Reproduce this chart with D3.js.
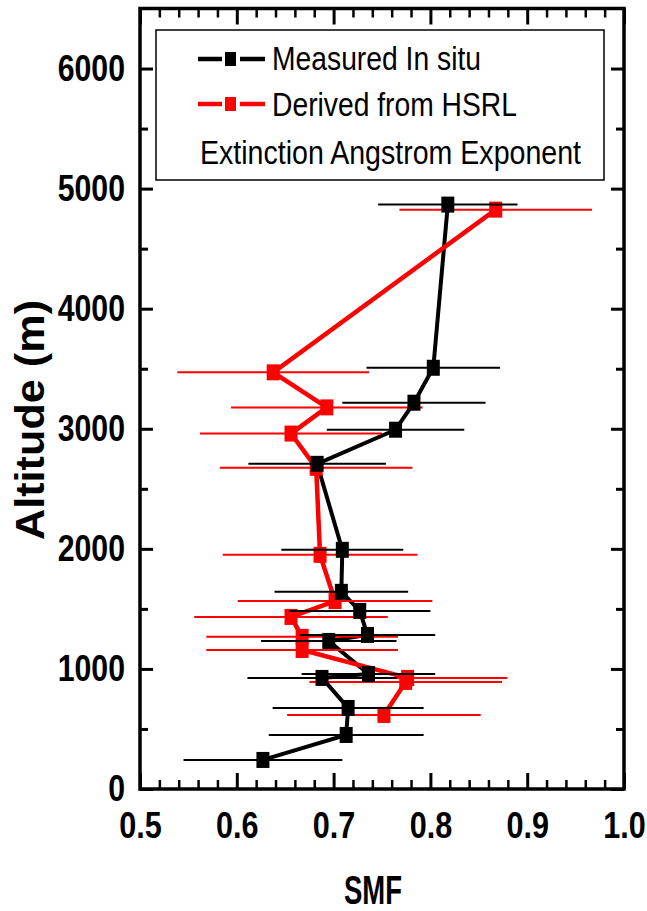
<!DOCTYPE html>
<html><head><meta charset="utf-8">
<script src="https://cdn.jsdelivr.net/npm/d3@7/dist/d3.min.js"></script>
<style>body{margin:0;background:#fff} text{font-family:"Liberation Sans",Arial,sans-serif}</style>
</head><body><svg id="c" width="647" height="911"></svg>
<script>
// Measured In situ (black)
const measuredAlt = [4867, 3508, 3217, 2992, 2708, 1992, 1642, 1483, 1283, 1233, 958, 925, 675, 450, 242];
const measuredSMF = [0.818, 0.803, 0.783, 0.764, 0.683, 0.709, 0.708, 0.727, 0.735, 0.695, 0.736, 0.688, 0.715, 0.713, 0.627];
const measuredErr = [0.072, 0.069, 0.074, 0.071, 0.071, 0.063, 0.069, 0.073, 0.070, 0.070, 0.069, 0.077, 0.078, 0.080, 0.082];
// Derived from HSRL (red)
const hsrlAlt = [4825, 3470, 3178, 2960, 2675, 1950, 1565, 1433, 1267, 1158, 925, 892, 617];
const hsrlSMF = [0.8675, 0.6376, 0.693, 0.656, 0.682, 0.686, 0.7015, 0.656, 0.6675, 0.6675, 0.7765, 0.7745, 0.752];
const hsrlErr = [0.0995, 0.099, 0.099, 0.094, 0.0995, 0.1005, 0.1005, 0.100, 0.099, 0.099, 0.103, 0.0995, 0.100];
// Axes ticks
const xMajor = [0.5, 0.6, 0.7, 0.8, 0.9, 1.0];
const xMinor = [0.52,0.54,0.56,0.58,0.62,0.64,0.66,0.68,0.72,0.74,0.76,0.78,0.82,0.84,0.86,0.88,0.92,0.94,0.96,0.98];
const yMajor = [0, 1000, 2000, 3000, 4000, 5000, 6000];
const yMinor = [500, 1500, 2500, 3500, 4500, 5500];
const xTickLabels = ["0.5", "0.6", "0.7", "0.8", "0.9", "1.0"];
const yTickLabels = ["0", "1000", "2000", "3000", "4000", "5000", "6000"];
const legendLabels = ["Measured In situ", "Derived from HSRL", "Extinction Angstrom Exponent"];

const svg = d3.select('#c');
const L = 140, R = 624, T = 8.5, B = 789;
const x = d3.scaleLinear().domain([0.5, 1.0]).range([L, R]);
const y = d3.scaleLinear().domain([0, 6500]).range([B, T]);

function styleAxis(g, w) {
  g.select('.domain').remove();
  g.selectAll('line').attr('stroke', '#000').attr('stroke-width', w);
}
// bottom axis
const gb = svg.append('g').attr('transform', `translate(0,${B})`)
  .call(d3.axisBottom(x).tickValues(xMajor).tickSizeInner(-16).tickSizeOuter(0).tickPadding(23)
    .tickFormat((d, i) => xTickLabels[i]));
styleAxis(gb, 3);
gb.selectAll('text').attr('font-size', 36).attr('font-weight', 'bold').attr('fill', '#000').attr('font-family', '"Liberation Sans",Arial,sans-serif');
const gbm = svg.append('g').attr('transform', `translate(0,${B})`)
  .call(d3.axisBottom(x).tickValues(xMinor).tickSize(-9).tickFormat(''));
styleAxis(gbm, 2.5);
// top axis
const gt = svg.append('g').attr('transform', `translate(0,${T})`)
  .call(d3.axisTop(x).tickValues(xMajor).tickSize(-16).tickFormat(''));
styleAxis(gt, 3);
const gtm = svg.append('g').attr('transform', `translate(0,${T})`)
  .call(d3.axisTop(x).tickValues(xMinor).tickSize(-9).tickFormat(''));
styleAxis(gtm, 2.5);
// left axis
const gl = svg.append('g').attr('transform', `translate(${L},0)`)
  .call(d3.axisLeft(y).tickValues(yMajor).tickSizeInner(-13).tickSizeOuter(0).tickPadding(15)
    .tickFormat((d, i) => yTickLabels[i]));
styleAxis(gl, 3);
gl.selectAll('text').attr('font-size', 36).attr('font-weight', 'bold').attr('fill', '#000').attr('font-family', '"Liberation Sans",Arial,sans-serif');
const glm = svg.append('g').attr('transform', `translate(${L},0)`)
  .call(d3.axisLeft(y).tickValues(yMinor).tickSize(-8).tickFormat(''));
styleAxis(glm, 3);
// right axis
const gr = svg.append('g').attr('transform', `translate(${R},0)`)
  .call(d3.axisRight(y).tickValues(yMajor).tickSize(-13).tickFormat(''));
styleAxis(gr, 3);
const grm = svg.append('g').attr('transform', `translate(${R},0)`)
  .call(d3.axisRight(y).tickValues(yMinor).tickSize(-8).tickFormat(''));
styleAxis(grm, 3);

// compress tick labels horizontally
gb.selectAll('text').each(function(){ const n = this.getComputedTextLength(); d3.select(this).attr('textLength', n*0.85).attr('lengthAdjust','spacingAndGlyphs'); });
gl.selectAll('text').each(function(){ const n = this.getComputedTextLength(); d3.select(this).attr('textLength', n*0.84).attr('lengthAdjust','spacingAndGlyphs'); });

// frame
svg.append('rect').attr('x', L).attr('y', T).attr('width', R - L).attr('height', B - T)
  .attr('fill', 'none').attr('stroke', '#000').attr('stroke-width', 3.5);

// series
const black = measuredAlt.map((a, i) => ({a, v: measuredSMF[i], e: measuredErr[i]}));
const red = hsrlAlt.map((a, i) => ({a, v: hsrlSMF[i], e: hsrlErr[i]}));
const line = d3.line().x(d => x(d.v)).y(d => y(d.a));
const SW = 13, SH = 16;

svg.append('path').datum(black).attr('d', line).attr('fill', 'none').attr('stroke', '#000').attr('stroke-width', 4);
svg.append('path').datum(red).attr('d', line).attr('fill', 'none').attr('stroke', '#ff0000').attr('stroke-width', 4.5);
svg.append('g').selectAll('line').data(red).join('line')
  .attr('x1', d => x(d.v - d.e)).attr('x2', d => x(d.v + d.e)).attr('y1', d => y(d.a)).attr('y2', d => y(d.a))
  .attr('stroke', '#ff0000').attr('stroke-width', 2);
svg.append('g').selectAll('rect').data(red).join('rect')
  .attr('x', d => x(d.v) - SW/2).attr('y', d => y(d.a) - SH/2).attr('width', SW).attr('height', SH).attr('fill', '#ff0000');
svg.append('g').selectAll('line').data(black).join('line')
  .attr('x1', d => x(d.v - d.e)).attr('x2', d => x(d.v + d.e)).attr('y1', d => y(d.a)).attr('y2', d => y(d.a))
  .attr('stroke', '#000').attr('stroke-width', 2);
svg.append('g').selectAll('rect').data(black).join('rect')
  .attr('x', d => x(d.v) - SW/2).attr('y', d => y(d.a) - SH/2).attr('width', SW).attr('height', SH).attr('fill', '#000');

// legend
const lg = svg.append('g');
lg.append('rect').attr('x', 156).attr('y', 30).attr('width', 448).attr('height', 150)
  .attr('fill', '#fff').attr('stroke', '#000').attr('stroke-width', 1.5);
const legendColors = ['#000', '#ff0000'];
const legY = [59, 104];
legendColors.forEach((c, i) => {
  lg.append('line').attr('x1', 198).attr('x2', 222).attr('y1', legY[i]).attr('y2', legY[i]).attr('stroke', c).attr('stroke-width', 4.5);
  lg.append('line').attr('x1', 240).attr('x2', 265).attr('y1', legY[i]).attr('y2', legY[i]).attr('stroke', c).attr('stroke-width', 4.5);
  lg.append('rect').attr('x', 225).attr('y', legY[i] - 7).attr('width', 11).attr('height', 14).attr('fill', c);
});
const legText = [{t: legendLabels[0], x: 272, y: 70, w: 209}, {t: legendLabels[1], x: 272, y: 116, w: 245}, {t: legendLabels[2], x: 200, y: 164, w: 381}];
legText.forEach(d => {
  lg.append('text').attr('x', d.x).attr('y', d.y).attr('font-size', 34).attr('fill', '#000')
    .attr('textLength', d.w).attr('lengthAdjust', 'spacingAndGlyphs').text(d.t);
});

// axis titles
svg.append('text').attr('x', 373).attr('y', 904).attr('text-anchor', 'middle').attr('font-size', 40)
  .attr('font-weight', 'bold').attr('textLength', 58).attr('lengthAdjust', 'spacingAndGlyphs').text('SMF');
svg.append('text').attr('transform', 'translate(44,420) rotate(-90)').attr('text-anchor', 'middle').attr('font-size', 40)
  .attr('font-weight', 'bold').attr('textLength', 240).attr('lengthAdjust', 'spacingAndGlyphs').text('Altitude (m)');
</script></body></html>
